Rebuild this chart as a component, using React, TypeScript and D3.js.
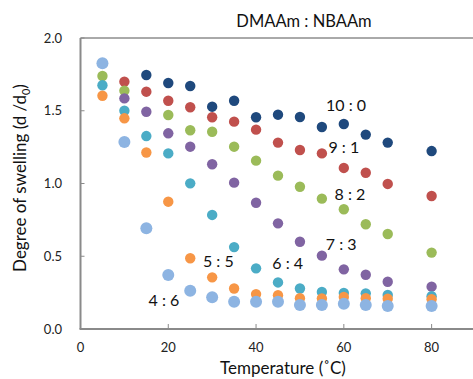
import React from "react";
import * as d3 from "d3";

const temperatures = [5, 10, 15, 20, 25, 30, 35, 40, 45, 50, 55, 60, 65, 70, 80];

const ratio10_0 = [null, null, 1.746, 1.691, 1.67, 1.528, 1.569, 1.455, 1.473, 1.457, 1.388, 1.409, 1.336, 1.281, 1.223];
const ratio9_1 = [null, 1.7, 1.631, 1.569, 1.524, 1.455, 1.425, 1.37, 1.281, 1.23, 1.207, 1.107, 1.074, 0.997, 0.914];
const ratio8_2 = [1.739, 1.638, null, 1.471, 1.366, 1.356, 1.253, 1.157, 1.054, 0.978, 0.896, 0.823, 0.72, 0.653, 0.525];
const ratio7_3 = [null, 1.585, 1.493, 1.345, 1.253, 1.132, 1.006, 0.868, 0.726, 0.6, 0.504, 0.41, 0.373, 0.325, 0.291];
const ratio6_4 = [1.675, 1.5, 1.326, 1.207, 1.001, 0.784, 0.563, 0.417, 0.32, 0.278, 0.254, 0.248, 0.245, 0.234, 0.225];
const ratio5_5 = [1.603, 1.448, 1.213, 0.875, 0.486, 0.355, 0.278, 0.24, 0.232, 0.212, 0.21, 0.22, 0.212, 0.208, 0.205];
const ratio4_6 = [1.826, 1.285, 0.692, 0.371, 0.263, 0.218, 0.188, 0.188, 0.188, 0.165, 0.165, 0.174, 0.165, 0.158, 0.158];

const seriesNames = ["10 : 0", "9 : 1", "8 : 2", "7 : 3", "6 : 4", "5 : 5", "4 : 6"];
const seriesValues = [ratio10_0, ratio9_1, ratio8_2, ratio7_3, ratio6_4, ratio5_5, ratio4_6];
const seriesColors = ["#1F497D", "#C0504D", "#9BBB59", "#8064A2", "#4BACC6", "#F79646", "#8DB4E2"];

// label anchor points in data units (temperature, value)
const labelTemps = [60.5, 60.0, 61.4, 59.4, 47.2, 31.4, 19.0];
const labelValues = [1.498, 1.21, 0.887, 0.54, 0.412, 0.428, 0.16];

const xTicks = [0, 20, 40, 60, 80];
const yTicks = [0, 0.5, 1.0, 1.5, 2.0];

const W = 473;
const H = 379;
const FONT = "Lato, 'Open Sans', sans-serif";

export default function App() {
  const x = d3.scaleLinear().domain([0, 90]).range([80.5, 475.5]);
  const y = d3.scaleLinear().domain([0, 2]).range([329, 38]);
  const axisColor = "#8a8a8a";

  return (
    <svg width={W} height={H} style={{ position: "absolute", left: 0, top: 0, background: "#fff" }} fontFamily={FONT}>
      <rect x={0} y={0} width={W} height={H} fill="#fff" />
      {/* frame */}
      <line x1={x(0)} x2={x(90)} y1={y(2)} y2={y(2)} stroke="#555" strokeWidth={1} />
      <line x1={x(0)} x2={x(0)} y1={y(2)} y2={y(0)} stroke={axisColor} strokeWidth={2} />
      <line x1={x(0) - 1} x2={x(90)} y1={y(0)} y2={y(0)} stroke={axisColor} strokeWidth={2} />
      {/* y ticks */}
      {yTicks.map((t) => (
        <g key={"y" + t}>
          <line x1={x(0)} x2={x(0) + 4} y1={y(t)} y2={y(t)} stroke={axisColor} strokeWidth={1} />
          <text x={62} y={y(t)} dy="0.35em" textAnchor="end" fontSize={13} fill="#222">
            {d3.format(".1f")(t)}
          </text>
        </g>
      ))}
      {/* x ticks */}
      {xTicks.map((t) => (
        <g key={"x" + t}>
          {t > 0 && <line x1={x(t)} x2={x(t)} y1={y(0)} y2={y(0) - 5} stroke={axisColor} strokeWidth={1} />}
          <text x={x(t)} y={352} textAnchor="middle" fontSize={13} fill="#222">
            {t}
          </text>
        </g>
      ))}
      {/* points */}
      {seriesValues.map((vals, si) => (
        <g key={"s" + si}>
          {vals.map((v, i) =>
            v == null ? null : (
              <circle
                key={i}
                cx={x(temperatures[i])}
                cy={y(v)}
                r={si === 6 ? 6 : 5.2}
                fill={seriesColors[si]}
              />
            )
          )}
        </g>
      ))}
      {/* series labels */}
      {seriesNames.map((n, i) => (
        <text key={"l" + i} x={x(labelTemps[i])} y={y(labelValues[i])} textAnchor="middle" fontSize={16} fill="#111">
          {n}
        </text>
      ))}
      {/* title */}
      <text x={304} y={27} textAnchor="middle" fontSize={16.5} fill="#111">
        DMAAm : NBAAm
      </text>
      {/* axis titles */}
      <text x={283} y={374} textAnchor="middle" fontSize={17} fill="#111">
        Temperature (˚C)
      </text>
      <text transform="translate(26,178) rotate(-90)" textAnchor="middle" fontSize={17} fill="#111">
        Degree of swelling (d /d
        <tspan fontSize={11} dy={4}>0</tspan>
        <tspan dy={-4}>)</tspan>
      </text>
    </svg>
  );
}
